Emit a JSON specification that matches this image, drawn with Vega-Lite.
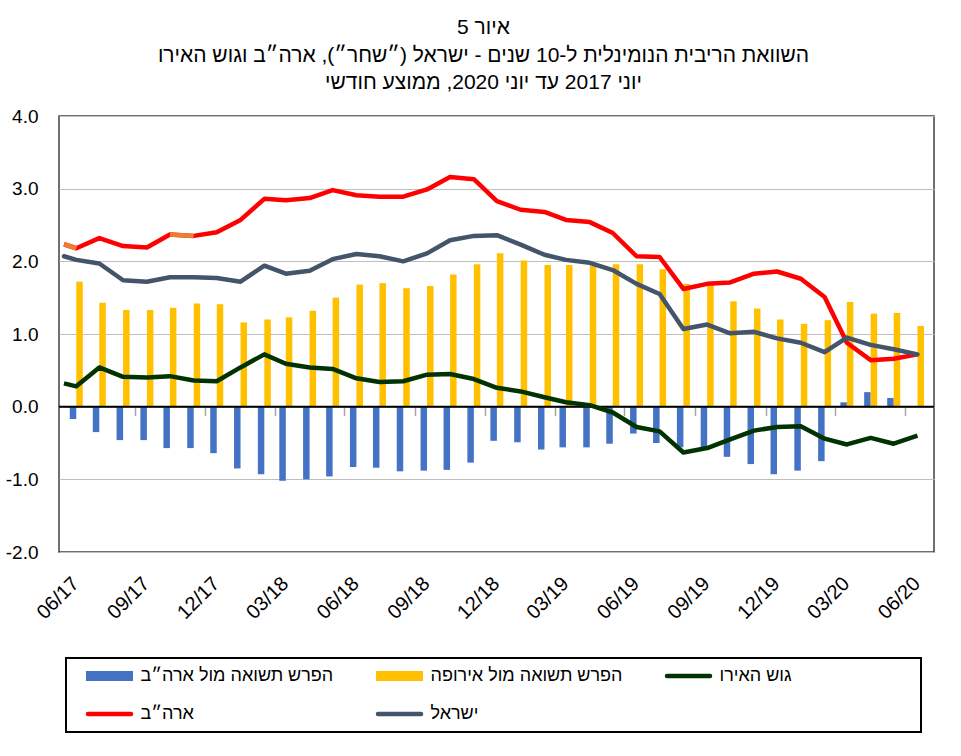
{
  "$schema": "https://vega.github.io/schema/vega-lite/v6.json",
  "width": 875,
  "height": 436,
  "autosize": {"type": "none"},
  "padding": {"left": 59, "top": 116, "right": 27, "bottom": 204},
  "background": "white",
  "config": {"view": {"stroke": "#404040", "strokeWidth": 1.5}, "font": "Liberation Sans"},
  "title": {
    "text": ["\u202bאיור 5\u202c", "\u202bהשוואת הריבית הנומינלית ל-10 שנים - ישראל (״שחר״), ארה״ב וגוש האירו\u202c", "\u202bיוני 2017 עד יוני 2020, ממוצע חודשי\u202c"],
    "fontSize": 21,
    "font": "Liberation Sans",
    "fontWeight": "normal",
    "color": "black",
    "lineHeight": 27.5,
    "anchor": "middle",
    "frame": "group",
    "offset": 14,
    "dx": -13
  },
  "data": {
    "format": {"parse": {"date": "date:'%Y-%m-%d'"}},
    "values": [
      {"date": "2017-05-16", "euro": 0.32, "us": 2.235, "israel": 2.07},
      {"date": "2017-06-01", "us_spread": -0.17, "eu_spread": 1.72, "euro": 0.28, "us": 2.18, "israel": 2.02},
      {"date": "2017-07-01", "us_spread": -0.35, "eu_spread": 1.43, "euro": 0.54, "us": 2.32, "israel": 1.97},
      {"date": "2017-08-01", "us_spread": -0.46, "eu_spread": 1.33, "euro": 0.41, "us": 2.21, "israel": 1.74},
      {"date": "2017-09-01", "us_spread": -0.46, "eu_spread": 1.33, "euro": 0.40, "us": 2.19, "israel": 1.72},
      {"date": "2017-10-01", "us_spread": -0.57, "eu_spread": 1.36, "euro": 0.42, "us": 2.37, "israel": 1.78},
      {"date": "2017-11-01", "us_spread": -0.57, "eu_spread": 1.42, "euro": 0.36, "us": 2.35, "israel": 1.78},
      {"date": "2017-12-01", "us_spread": -0.64, "eu_spread": 1.41, "euro": 0.35, "us": 2.40, "israel": 1.77},
      {"date": "2018-01-01", "us_spread": -0.85, "eu_spread": 1.16, "euro": 0.54, "us": 2.57, "israel": 1.72},
      {"date": "2018-02-01", "us_spread": -0.93, "eu_spread": 1.20, "euro": 0.72, "us": 2.86, "israel": 1.94},
      {"date": "2018-03-01", "us_spread": -1.02, "eu_spread": 1.23, "euro": 0.59, "us": 2.84, "israel": 1.83},
      {"date": "2018-04-01", "us_spread": -1.00, "eu_spread": 1.32, "euro": 0.54, "us": 2.87, "israel": 1.87},
      {"date": "2018-05-01", "us_spread": -0.96, "eu_spread": 1.50, "euro": 0.52, "us": 2.98, "israel": 2.03},
      {"date": "2018-06-01", "us_spread": -0.83, "eu_spread": 1.68, "euro": 0.39, "us": 2.91, "israel": 2.10},
      {"date": "2018-07-01", "us_spread": -0.84, "eu_spread": 1.70, "euro": 0.34, "us": 2.89, "israel": 2.07},
      {"date": "2018-08-01", "us_spread": -0.89, "eu_spread": 1.63, "euro": 0.35, "us": 2.89, "israel": 2.00},
      {"date": "2018-09-01", "us_spread": -0.88, "eu_spread": 1.66, "euro": 0.44, "us": 2.99, "israel": 2.11},
      {"date": "2018-10-01", "us_spread": -0.87, "eu_spread": 1.82, "euro": 0.45, "us": 3.16, "israel": 2.29},
      {"date": "2018-11-01", "us_spread": -0.77, "eu_spread": 1.96, "euro": 0.38, "us": 3.13, "israel": 2.35},
      {"date": "2018-12-01", "us_spread": -0.47, "eu_spread": 2.11, "euro": 0.26, "us": 2.83, "israel": 2.36},
      {"date": "2019-01-01", "us_spread": -0.49, "eu_spread": 2.01, "euro": 0.21, "us": 2.71, "israel": 2.23},
      {"date": "2019-02-01", "us_spread": -0.59, "eu_spread": 1.95, "euro": 0.13, "us": 2.68, "israel": 2.09},
      {"date": "2019-03-01", "us_spread": -0.56, "eu_spread": 1.95, "euro": 0.06, "us": 2.57, "israel": 2.02},
      {"date": "2019-04-01", "us_spread": -0.56, "eu_spread": 1.94, "euro": 0.02, "us": 2.54, "israel": 1.98},
      {"date": "2019-05-01", "us_spread": -0.51, "eu_spread": 1.96, "euro": -0.08, "us": 2.39, "israel": 1.88},
      {"date": "2019-06-01", "us_spread": -0.37, "eu_spread": 1.96, "euro": -0.28, "us": 2.07, "israel": 1.69},
      {"date": "2019-07-01", "us_spread": -0.50, "eu_spread": 1.89, "euro": -0.34, "us": 2.06, "israel": 1.55},
      {"date": "2019-08-01", "us_spread": -0.56, "eu_spread": 1.69, "euro": -0.63, "us": 1.62, "israel": 1.07},
      {"date": "2019-09-01", "us_spread": -0.56, "eu_spread": 1.68, "euro": -0.57, "us": 1.69, "israel": 1.13},
      {"date": "2019-10-01", "us_spread": -0.69, "eu_spread": 1.45, "euro": -0.45, "us": 1.71, "israel": 1.01},
      {"date": "2019-11-01", "us_spread": -0.79, "eu_spread": 1.35, "euro": -0.33, "us": 1.83, "israel": 1.03},
      {"date": "2019-12-01", "us_spread": -0.93, "eu_spread": 1.20, "euro": -0.28, "us": 1.86, "israel": 0.94},
      {"date": "2020-01-01", "us_spread": -0.88, "eu_spread": 1.14, "euro": -0.27, "us": 1.76, "israel": 0.88},
      {"date": "2020-02-01", "us_spread": -0.75, "eu_spread": 1.19, "euro": -0.44, "us": 1.51, "israel": 0.75},
      {"date": "2020-03-01", "us_spread": 0.06, "eu_spread": 1.44, "euro": -0.52, "us": 0.88, "israel": 0.95},
      {"date": "2020-04-01", "us_spread": 0.20, "eu_spread": 1.28, "euro": -0.43, "us": 0.64, "israel": 0.85},
      {"date": "2020-05-01", "us_spread": 0.12, "eu_spread": 1.29, "euro": -0.51, "us": 0.66, "israel": 0.79},
      {"date": "2020-06-01", "us_spread": 0.00, "eu_spread": 1.11, "euro": -0.40, "us": 0.72, "israel": 0.72}
    ]
  },
  "transform": [{"fold": ["us_spread", "eu_spread", "euro", "us", "israel"], "as": ["series", "v"]}],
  "resolve": {"axis": {"x": "independent"}},
  "layer": [
    {
      "transform": [{"filter": "datum.series === 'us_spread'"}],
      "mark": {"type": "bar", "width": 6.5, "xOffset": -3.25},
      "encoding": {
        "x": {"field": "date", "type": "temporal", "title": null,
          "scale": {"domain": [{"year": 2017, "month": 5, "date": 16}, {"year": 2020, "month": 6, "date": 16}], "nice": false},
          "axis": {"orient": "bottom", "title": null, "format": "%m/%y", "labelAngle": -45, "labelFontSize": 20, "labelFont": "Liberation Sans", "labelColor": "black", "ticks": false, "domain": false, "grid": false, "labelPadding": 21, "labelOffset": -8, "labelOverlap": false, "labelBound": false, "labelFlush": false,
            "values": [{"year": 2017, "month": 6, "date": 1}, {"year": 2017, "month": 9, "date": 1}, {"year": 2017, "month": 12, "date": 1}, {"year": 2018, "month": 3, "date": 1}, {"year": 2018, "month": 6, "date": 1}, {"year": 2018, "month": 9, "date": 1}, {"year": 2018, "month": 12, "date": 1}, {"year": 2019, "month": 3, "date": 1}, {"year": 2019, "month": 6, "date": 1}, {"year": 2019, "month": 9, "date": 1}, {"year": 2019, "month": 12, "date": 1}, {"year": 2020, "month": 3, "date": 1}, {"year": 2020, "month": 6, "date": 1}]}},
        "y": {"field": "v", "type": "quantitative", "title": null,
          "scale": {"domain": [-2, 4], "nice": false, "zero": false},
          "axis": {"title": null, "values": [-2, -1, 0, 1, 2, 3, 4], "labelExpr": "replace(format(datum.value, '.1f'), '\u2212', '-')", "grid": true, "gridColor": "#BFBFBF", "gridWidth": 1, "ticks": false, "domain": false, "labelFontSize": 19, "labelFont": "Liberation Sans", "labelColor": "black", "labelPadding": 21}},
        "color": {"field": "series", "type": "nominal",
          "scale": {"domain": ["us_spread", "eu_spread", "euro", "us", "israel"], "range": ["#4472C4", "#FFC000", "#003300", "#FF0000", "#44546A"]},
          "legend": {"title": null, "orient": "none", "legendX": 7, "legendY": 542, "direction": "horizontal", "columns": 3, "columnPadding": 31, "rowPadding": 20, "padding": 9, "symbolOffset": 25.5, "symbolSize": 2209, "labelFontSize": 18, "labelFont": "Liberation Sans", "labelColor": "black", "labelLimit": 500, "labelOffset": 22, "strokeColor": "black",
            "labelExpr": "datum.value == 'us_spread' ? 'הפרש תשואה מול ארה״ב' : datum.value == 'eu_spread' ? 'הפרש תשואה מול אירופה' : datum.value == 'euro' ? 'גוש האירו\u00a0\u00a0\u00a0\u00a0\u00a0\u00a0\u00a0\u00a0\u00a0\u00a0\u00a0\u00a0\u00a0\u00a0\u00a0\u00a0\u00a0\u00a0\u00a0\u00a0\u00a0\u00a0\u00a0\u00a0\u200b' : datum.value == 'us' ? 'ארה״ב' : 'ישראל'",
            "encode": {
              "legend": {"update": {"stroke": {"value": "black"}, "strokeWidth": {"value": 2}}},
              "symbols": {"update": {
                "shape": {"signal": "indexof(['us_spread','eu_spread'], datum.value) >= 0 ? 'M-1,-0.21H1V0.21H-1Z' : 'M-0.915,0H0.915'"},
                "fill": {"signal": "datum.value == 'us_spread' ? '#4472C4' : datum.value == 'eu_spread' ? '#FFC000' : 'transparent'"},
                "stroke": {"signal": "datum.value == 'euro' ? '#003300' : datum.value == 'us' ? '#FF0000' : datum.value == 'israel' ? '#44546A' : 'transparent'"},
                "strokeWidth": {"signal": "indexof(['us_spread','eu_spread'], datum.value) >= 0 ? 0 : 4.5"},
                "strokeCap": {"value": "round"},
                "opacity": {"value": 1}
              }}
            }}}
      }
    },
    {
      "transform": [{"filter": "datum.series === 'eu_spread'"}],
      "mark": {"type": "bar", "width": 6.5, "xOffset": 3.25},
      "encoding": {
        "x": {"field": "date", "type": "temporal", "title": null,
          "scale": {"domain": [{"year": 2017, "month": 5, "date": 16}, {"year": 2020, "month": 6, "date": 16}], "nice": false},
          "axis": {"orient": "bottom", "offset": -145.4, "title": null, "labels": false, "domain": false, "grid": false, "ticks": true, "tickSize": 9, "tickColor": "#A6A6A6", "tickWidth": 1.5,
            "values": [{"year": 2017, "month": 8, "date": 16}, {"year": 2017, "month": 11, "date": 16}, {"year": 2018, "month": 2, "date": 15}, {"year": 2018, "month": 5, "date": 16}, {"year": 2018, "month": 8, "date": 16}, {"year": 2018, "month": 11, "date": 16}, {"year": 2019, "month": 2, "date": 15}, {"year": 2019, "month": 5, "date": 16}, {"year": 2019, "month": 8, "date": 16}, {"year": 2019, "month": 11, "date": 16}, {"year": 2020, "month": 2, "date": 15}, {"year": 2020, "month": 5, "date": 16}]}},
        "y": {"field": "v", "type": "quantitative", "title": null},
        "color": {"field": "series", "type": "nominal", "scale": {"domain": ["us_spread", "eu_spread", "euro", "us", "israel"], "range": ["#4472C4", "#FFC000", "#003300", "#FF0000", "#44546A"]}}
      }
    },
    {
      "data": {"values": [{}]},
      "mark": {"type": "rule", "color": "black", "strokeWidth": 2},
      "encoding": {"y": {"datum": 0, "type": "quantitative"}}
    },
    {
      "transform": [{"filter": "datum.series === 'euro'"}],
      "mark": {"type": "line", "strokeWidth": 4.5, "strokeJoin": "round", "strokeCap": "butt"},
      "encoding": {
        "x": {"field": "date", "type": "temporal", "title": null, "axis": null, "scale": {"domain": [{"year": 2017, "month": 5, "date": 16}, {"year": 2020, "month": 6, "date": 16}], "nice": false}},
        "y": {"field": "v", "type": "quantitative", "title": null},
        "color": {"field": "series", "type": "nominal", "scale": {"domain": ["us_spread", "eu_spread", "euro", "us", "israel"], "range": ["#4472C4", "#FFC000", "#003300", "#FF0000", "#44546A"]}}
      }
    },
    {
      "transform": [{"filter": "datum.series === 'us'"}],
      "mark": {"type": "line", "strokeWidth": 4.5, "strokeJoin": "round", "strokeCap": "butt"},
      "encoding": {
        "x": {"field": "date", "type": "temporal", "title": null, "axis": null, "scale": {"domain": [{"year": 2017, "month": 5, "date": 16}, {"year": 2020, "month": 6, "date": 16}], "nice": false}},
        "y": {"field": "v", "type": "quantitative", "title": null},
        "color": {"field": "series", "type": "nominal", "scale": {"domain": ["us_spread", "eu_spread", "euro", "us", "israel"], "range": ["#4472C4", "#FFC000", "#003300", "#FF0000", "#44546A"]}}
      }
    },
    {
      "data": {
        "format": {"parse": {"date": "date:'%Y-%m-%d'"}},
        "values": [
          {"date": "2017-05-16", "v": 2.235, "seg": "a"},
          {"date": "2017-06-01", "v": 2.18, "seg": "a"},
          {"date": "2017-10-01", "v": 2.37, "seg": "b"},
          {"date": "2017-11-01", "v": 2.35, "seg": "b"}
        ]
      },
      "mark": {"type": "line", "strokeWidth": 4.5, "strokeCap": "butt", "color": "#ED7D31"},
      "encoding": {
        "x": {"field": "date", "type": "temporal", "title": null, "axis": null, "scale": {"domain": [{"year": 2017, "month": 5, "date": 16}, {"year": 2020, "month": 6, "date": 16}], "nice": false}},
        "y": {"field": "v", "type": "quantitative", "title": null},
        "detail": {"field": "seg", "type": "nominal"}
      }
    },
    {
      "transform": [{"filter": "datum.series === 'israel'"}],
      "mark": {"type": "line", "strokeWidth": 4.5, "strokeJoin": "round", "strokeCap": "round"},
      "encoding": {
        "x": {"field": "date", "type": "temporal", "title": null, "axis": null, "scale": {"domain": [{"year": 2017, "month": 5, "date": 16}, {"year": 2020, "month": 6, "date": 16}], "nice": false}},
        "y": {"field": "v", "type": "quantitative", "title": null},
        "color": {"field": "series", "type": "nominal", "scale": {"domain": ["us_spread", "eu_spread", "euro", "us", "israel"], "range": ["#4472C4", "#FFC000", "#003300", "#FF0000", "#44546A"]}}
      }
    }
  ]
}
